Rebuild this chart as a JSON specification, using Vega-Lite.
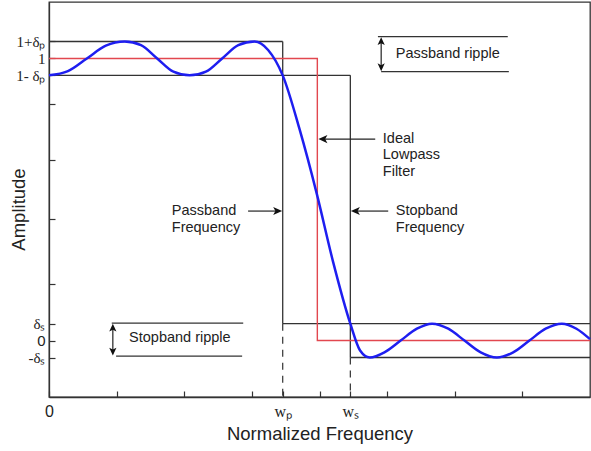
{
  "$schema": "https://vega.github.io/schema/vega-lite/v6.json",
  "width": 541,
  "height": 395,
  "autosize": {"type": "none"},
  "padding": {"left": 49, "top": 2, "right": 1, "bottom": 54},
  "background": "white",
  "view": {"stroke": "#333", "strokeWidth": 1.3},
  "config": {"font": "Liberation Sans"},
  "datasets": {
    "curve": [
      {"x": 0, "y": 0.94}, {"x": 0.035, "y": 0.955}, {"x": 0.07, "y": 1.0}, {"x": 0.105, "y": 1.045},
      {"x": 0.14, "y": 1.06}, {"x": 0.17, "y": 1.047}, {"x": 0.2, "y": 1.0}, {"x": 0.23, "y": 0.953},
      {"x": 0.26, "y": 0.94}, {"x": 0.29, "y": 0.953}, {"x": 0.32, "y": 1.0}, {"x": 0.35, "y": 1.047},
      {"x": 0.38, "y": 1.06}, {"x": 0.405, "y": 1.03}, {"x": 0.432, "y": 0.94}, {"x": 0.463, "y": 0.75},
      {"x": 0.495, "y": 0.52}, {"x": 0.525, "y": 0.28}, {"x": 0.557, "y": 0.06}, {"x": 0.575, "y": -0.035},
      {"x": 0.593, "y": -0.06}, {"x": 0.62, "y": -0.042}, {"x": 0.65, "y": 0.0}, {"x": 0.68, "y": 0.042},
      {"x": 0.708, "y": 0.06}, {"x": 0.738, "y": 0.042}, {"x": 0.768, "y": 0.0}, {"x": 0.798, "y": -0.042},
      {"x": 0.828, "y": -0.06}, {"x": 0.858, "y": -0.042}, {"x": 0.888, "y": 0.0}, {"x": 0.918, "y": 0.042},
      {"x": 0.948, "y": 0.06}, {"x": 0.975, "y": 0.042}, {"x": 1.0, "y": 0.005}
    ],
    "ideal": [
      {"i": 0, "x": 0, "y": 1}, {"i": 1, "x": 0.496, "y": 1}, {"i": 2, "x": 0.496, "y": 0}, {"i": 3, "x": 1, "y": 0}
    ],
    "bounds": [
      {"x": 0, "x2": 0.432, "y": 1.06, "y2": 1.06},
      {"x": 0.432, "x2": 0.432, "y": 1.06, "y2": 0.06},
      {"x": 0.432, "x2": 1, "y": 0.06, "y2": 0.06},
      {"x": 0, "x2": 0.557, "y": 0.94, "y2": 0.94},
      {"x": 0.557, "x2": 0.557, "y": 0.94, "y2": -0.06},
      {"x": 0.557, "x2": 1, "y": -0.06, "y2": -0.06},
      {"x": 0.608, "x2": 0.848, "y": 1.077, "y2": 1.077},
      {"x": 0.614, "x2": 0.85, "y": 0.953, "y2": 0.953},
      {"x": 0.116, "x2": 0.359, "y": 0.062, "y2": 0.062},
      {"x": 0.124, "x2": 0.357, "y": -0.055, "y2": -0.055}
    ],
    "drops": [
      {"x": 0.432, "y": 0.06, "y2": -0.2},
      {"x": 0.557, "y": -0.06, "y2": -0.2}
    ],
    "shafts": [
      {"x": 0.603, "x2": 0.51, "y": 0.714, "y2": 0.714},
      {"x": 0.368, "x2": 0.42, "y": 0.459, "y2": 0.459},
      {"x": 0.627, "x2": 0.57, "y": 0.459, "y2": 0.459},
      {"x": 0.614, "x2": 0.614, "y": 1.06, "y2": 0.97},
      {"x": 0.118, "x2": 0.118, "y": 0.05, "y2": -0.045}
    ],
    "headsLeft": [{"x": 0.498, "y": 0.714}, {"x": 0.558, "y": 0.459}],
    "headsRight": [{"x": 0.431, "y": 0.459}],
    "headsUp": [{"x": 0.614, "y": 1.075}, {"x": 0.118, "y": 0.06}],
    "headsDown": [{"x": 0.614, "y": 0.955}, {"x": 0.118, "y": -0.053}],
    "labels": [
      {"x": 0.617, "y": 0.716, "t": "Ideal\nLowpass\nFilter"},
      {"x": 0.227, "y": 0.4575, "t": "Passband\nFrequency"},
      {"x": 0.641, "y": 0.4575, "t": "Stopband\nFrequency"},
      {"x": 0.641, "y": 1.0157, "t": "Passband ripple"},
      {"x": 0.148, "y": 0.009, "t": "Stopband ripple"}
    ]
  },
  "encoding": {
    "x": {
      "field": "x", "type": "quantitative",
      "scale": {"domain": [0, 1], "nice": false, "zero": false},
      "axis": {
        "title": "Normalized Frequency",
        "titleFont": "Liberation Sans", "titleFontSize": 18.5, "titleFontWeight": "normal", "titleColor": "#222",
        "titlePadding": 5,
        "values": [0, 0.125, 0.25, 0.375, 0.432, 0.5, 0.557, 0.625, 0.75, 0.875],
        "labelExpr": "datum.value == 0 ? '0' : datum.value == 0.432 ? 'wₚ' : datum.value == 0.557 ? 'wₛ' : ''",
        "labelFont": {"condition": {"test": "datum.value == 0", "value": "Liberation Sans"}, "value": "Liberation Serif"},
        "labelFontSize": 16, "labelColor": "#222",
        "labelOverlap": false, "labelFlush": false, "labelBound": false,
        "tickSize": -6, "labelPadding": 12, "tickColor": "#333", "tickWidth": 1.2,
        "domainColor": "#333", "domainWidth": 1.3, "grid": false
      }
    },
    "y": {
      "field": "y", "type": "quantitative",
      "scale": {"domain": [-0.2, 1.2], "nice": false, "zero": false},
      "axis": {
        "title": "Amplitude",
        "titleFont": "Liberation Sans", "titleFontSize": 18.5, "titleFontWeight": "normal", "titleColor": "#222",
        "titleX": -31, "titleY": 207, "titleAngle": -90, "titleAlign": "center", "titleBaseline": "middle",
        "values": [-0.06, 0, 0.06, 0.2, 0.43, 0.64, 0.84, 0.94, 1, 1.06],
        "labelExpr": "datum.value == 1.06 ? '1+δₚ' : datum.value == 1 ? '1' : datum.value == 0.94 ? '1- δₚ' : datum.value == 0.06 ? 'δₛ' : datum.value == 0 ? '0' : datum.value == -0.06 ? '-δₛ' : ''",
        "labelFont": {"condition": {"test": "datum.value == 0", "value": "Liberation Sans"}, "value": "Liberation Serif"},
        "labelFontSize": 15, "labelColor": "#222",
        "labelOverlap": false, "labelFlush": false, "labelBound": false,
        "tickSize": -6, "labelPadding": 10, "tickColor": "#333", "tickWidth": 1.2,
        "domainColor": "#333", "domainWidth": 1.3, "grid": false
      }
    }
  },
  "layer": [
    {
      "data": {"name": "bounds"},
      "mark": {"type": "rule", "color": "#333", "strokeWidth": 1.3},
      "encoding": {"x2": {"field": "x2"}, "y2": {"field": "y2"}}
    },
    {
      "data": {"name": "drops"},
      "mark": {"type": "rule", "color": "#333", "strokeWidth": 1.2, "strokeDash": [7, 6]},
      "encoding": {"y2": {"field": "y2"}}
    },
    {
      "data": {"name": "ideal"},
      "mark": {"type": "line", "color": "#e2474f", "strokeWidth": 1.4},
      "encoding": {"order": {"field": "i"}}
    },
    {
      "data": {"name": "curve"},
      "mark": {"type": "line", "color": "#1e1ef0", "strokeWidth": 2.5, "interpolate": "monotone"},
      "encoding": {}
    },
    {
      "data": {"name": "shafts"},
      "mark": {"type": "rule", "color": "#222", "strokeWidth": 1.2},
      "encoding": {"x2": {"field": "x2"}, "y2": {"field": "y2"}}
    },
    {
      "data": {"name": "headsLeft"},
      "mark": {"type": "point", "filled": true, "color": "#111", "opacity": 1, "size": 81, "shape": "M0,0L2,-0.9L1.5,0L2,0.9Z"},
      "encoding": {}
    },
    {
      "data": {"name": "headsRight"},
      "mark": {"type": "point", "filled": true, "color": "#111", "opacity": 1, "size": 81, "shape": "M0,0L-2,-0.9L-1.5,0L-2,0.9Z"},
      "encoding": {}
    },
    {
      "data": {"name": "headsUp"},
      "mark": {"type": "point", "filled": true, "color": "#111", "opacity": 1, "size": 36, "shape": "M0,0L-1.2,2.6L0,2.0L1.2,2.6Z"},
      "encoding": {}
    },
    {
      "data": {"name": "headsDown"},
      "mark": {"type": "point", "filled": true, "color": "#111", "opacity": 1, "size": 36, "shape": "M0,0L-1.2,-2.6L0,-2.0L1.2,-2.6Z"},
      "encoding": {}
    },
    {
      "data": {"name": "labels"},
      "mark": {"type": "text", "align": "left", "baseline": "middle", "font": "Liberation Sans", "fontSize": 14.5, "color": "#222", "lineBreak": "\n", "lineHeight": 16.5},
      "encoding": {"text": {"field": "t"}}
    }
  ]
}
